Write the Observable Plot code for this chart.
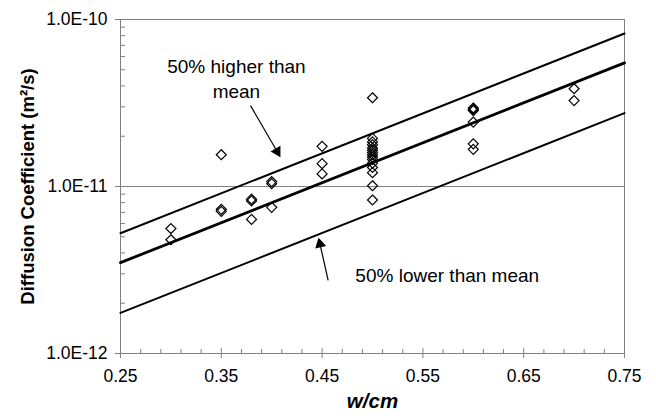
<!DOCTYPE html>
<html><head><meta charset="utf-8">
<script src="https://cdn.jsdelivr.net/npm/d3@7"></script>
<script src="https://cdn.jsdelivr.net/npm/@observablehq/plot@0.6"></script>
<style>body{margin:0;background:#fff;}</style>
</head><body><div id="chart"></div>
<script>
// measured points: w/cm and diffusion coefficient (m2/s)
const pointWcm = [
  0.30, 0.30,
  0.35, 0.35, 0.35,
  0.38, 0.38, 0.38,
  0.40, 0.40, 0.40,
  0.45, 0.45, 0.45,
  0.50, 0.50, 0.50, 0.50, 0.50, 0.50, 0.50, 0.50, 0.50, 0.50, 0.50, 0.50, 0.50, 0.50, 0.50,
  0.60, 0.60, 0.60, 0.60, 0.60, 0.60,
  0.70, 0.70
];
const pointD = [
  5.6e-12, 4.8e-12,
  1.55e-11, 7.3e-12, 7.1e-12,
  8.4e-12, 8.2e-12, 6.35e-12,
  1.07e-11, 1.04e-11, 7.5e-12,
  1.74e-11, 1.37e-11, 1.19e-11,
  3.4e-11, 1.94e-11, 1.85e-11, 1.78e-11, 1.7e-11, 1.65e-11, 1.6e-11, 1.55e-11, 1.5e-11, 1.45e-11, 1.38e-11, 1.3e-11, 1.21e-11, 1.01e-11, 8.3e-12,
  2.95e-11, 2.9e-11, 2.85e-11, 2.43e-11, 1.8e-11, 1.67e-11,
  3.85e-11, 3.27e-11
];
// fitted lines (end points)
const lineWcm = [0.25, 0.75];
const meanD = [3.5e-12, 5.5e-11];
const upperD = [5.25e-12, 8.25e-11];
const lowerD = [1.75e-12, 2.75e-11];
// ticks
const xTicks = [0.25, 0.35, 0.45, 0.55, 0.65, 0.75];
const xMinorTicks = [0.27,0.29,0.31,0.33,0.37,0.39,0.41,0.43,0.47,0.49,0.51,0.53,0.57,0.59,0.61,0.63,0.67,0.69,0.71,0.73];
const yTicks = [1e-12, 1e-11, 1e-10];
const yMinorTicks = [2e-12,3e-12,4e-12,5e-12,6e-12,7e-12,8e-12,9e-12,2e-11,3e-11,4e-11,5e-11,6e-11,7e-11,8e-11,9e-11];
// annotations
const upperNote = {t: "50% higher than\nmean", x: 0.365, y: 4.5e-11};
const lowerNote = {t: "50% lower than mean", x: 0.483, y: 2.93e-12};
const arrowX1 = [0.379, 0.456];
const arrowY1 = [3.05e-11, 2.74e-12];
const arrowX2 = [0.4054, 0.4479];
const arrowY2 = [1.62e-11, 4.52e-12];
const arrowAngle = [150, -13];

const points = pointWcm.map((x, i) => ({x, y: pointD[i]}));
const mk = arr => lineWcm.map((x, i) => ({x, y: arr[i]}));
const arrows = arrowX1.map((x1, i) => ({x1, y1: arrowY1[i], x2: arrowX2[i], y2: arrowY2[i], angle: arrowAngle[i]}));
const gray = "#808080";

const chart = Plot.plot({
  width: 656, height: 418,
  marginLeft: 120, marginRight: 32, marginTop: 19, marginBottom: 65,
  style: {fontFamily: "'Liberation Sans', Arial, sans-serif", background: "white", color: "black"},
  x: {domain: [0.25, 0.75]},
  y: {type: "log", domain: [1e-12, 1e-10]},
  marks: [
    Plot.ruleY([1e-11], {stroke: gray}),
    Plot.frame({stroke: gray}),
    Plot.tickX(xMinorTicks, {x: d => d, stroke: gray, insetTop: 330}),
    Plot.tickX(xTicks, {x: d => d, stroke: gray, insetTop: 329}),
    Plot.tickY(yMinorTicks, {y: d => d, stroke: gray, insetRight: 499}),
    Plot.axisX(xTicks, {tickSize: 5, tickPadding: 11, tickFormat: d3.format(".2f"), stroke: gray, fill: "black", fontSize: 17.5, label: null}),
    Plot.axisY(yTicks, {tickSize: 5, tickPadding: 8, tickFormat: d => "1.0E" + Math.round(Math.log10(d)), stroke: gray, fill: "black", fontSize: 17.5, label: null}),
    Plot.line(mk(upperD), {x: "x", y: "y", stroke: "black", strokeWidth: 2}),
    Plot.line(mk(lowerD), {x: "x", y: "y", stroke: "black", strokeWidth: 2}),
    Plot.line(mk(meanD), {x: "x", y: "y", stroke: "black", strokeWidth: 2.8}),
    Plot.dot(points, {x: "x", y: "y", symbol: "diamond2", r: 4.5, stroke: "black", strokeWidth: 1.2, fill: "none"}),
    Plot.link(arrows, {x1: "x1", y1: "y1", x2: "x2", y2: "y2", stroke: "black", strokeWidth: 1.2}),
    Plot.dot(arrows, {x: "x2", y: "y2", symbol: "triangle", rotate: "angle", r: 4.2, fill: "black", stroke: "none"}),
    Plot.text([upperNote], {x: "x", y: "y", text: "t", textAnchor: "middle", fontSize: 19, lineHeight: 1.3, fill: "black"}),
    Plot.text([lowerNote], {x: "x", y: "y", text: "t", textAnchor: "start", fontSize: 19, fill: "black"}),
    Plot.text(["Diffusion Coefficient (m²/s)"], {text: d => d, frameAnchor: "left", textAnchor: "middle", dx: -92, rotate: -90, fontWeight: "bold", fontSize: 18.5, fill: "black"}),
    Plot.text(["w/cm"], {text: d => d, frameAnchor: "bottom", textAnchor: "middle", dy: 54, fontWeight: "bold", fontStyle: "italic", fontSize: 20.5, fill: "black"})
  ]
});
document.getElementById("chart").appendChild(chart);
</script>
</body></html>
